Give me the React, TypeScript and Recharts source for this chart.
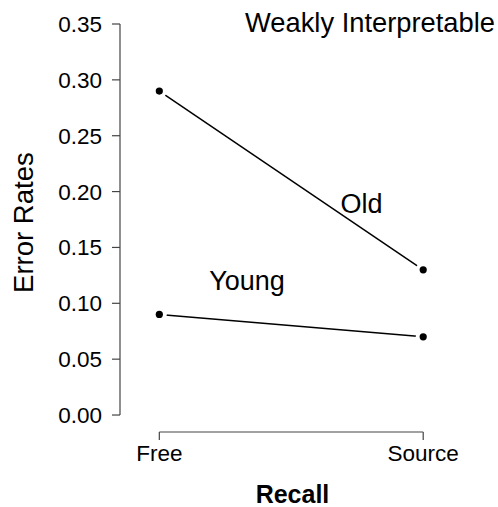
import React from 'react';
import { LineChart, Line, XAxis, YAxis, ReferenceLine } from 'recharts';

const conditions = ['Free', 'Source'];
const oldErrors = [0.29, 0.13];
const youngErrors = [0.09, 0.07];
const yTicks = [0, 0.05, 0.1, 0.15, 0.2, 0.25, 0.3, 0.35];

const FONT = '"Liberation Sans", Arial, Helvetica, sans-serif';
const AXIS_COLOR = '#444';

// x positions are condition indices; the extra room on either side keeps
// the points off the y axis like base R's plot region
const X_DOMAIN: [number, number] = [-0.149, 1.147];
// the axis sits a little below zero, R-style
const Y_DOMAIN: [number, number] = [-0.0152, 0.35];

const data = conditions.map((name, i) => ({
  x: i,
  name,
  old: oldErrors[i],
  young: youngErrors[i],
}));

// point with a white ring so the connecting line stops short of it (type = "b")
const GapDot = (props: any) => {
  const { cx, cy, index } = props;
  if (cx == null || cy == null) return <g key={index} />;
  return (
    <g key={index}>
      <circle cx={cx} cy={cy} r={7.5} fill="#fff" />
      <circle cx={cx} cy={cy} r={3.6} fill="#000" />
    </g>
  );
};

export default function App() {
  return (
    <div style={{ position: 'absolute', left: 0, top: 0, width: 498, height: 507, background: '#fff' }}>
      <LineChart
        width={498}
        height={507}
        data={data}
        margin={{ top: 24, right: 36, bottom: 0, left: 0 }}
      >
        <XAxis
          dataKey="x"
          type="number"
          domain={X_DOMAIN}
          ticks={[0, 1]}
          tickFormatter={(v: number) => conditions[v] ?? ''}
          axisLine={false}
          tickSize={8}
          tickMargin={5}
          height={75}
          tickLine={{ stroke: AXIS_COLOR, strokeWidth: 1.2 }}
          tick={{ fill: '#000', fontSize: 22.5, fontFamily: FONT }}
          allowDataOverflow
        />
        <YAxis
          type="number"
          domain={Y_DOMAIN}
          ticks={yTicks}
          tickFormatter={(v: number) => v.toFixed(2)}
          axisLine={false}
          tickSize={8}
          tickMargin={10}
          width={120}
          tickLine={{ stroke: AXIS_COLOR, strokeWidth: 1.2 }}
          tick={{ fill: '#000', fontSize: 22.5, fontFamily: FONT }}
          allowDataOverflow
          interval={0}
        />
        {/* axis lines only span the tick range */}
        <ReferenceLine
          segment={[{ x: X_DOMAIN[0], y: 0 }, { x: X_DOMAIN[0], y: 0.35 }]}
          stroke={AXIS_COLOR}
          strokeWidth={1.2}
          ifOverflow="visible"
        />
        <ReferenceLine
          segment={[{ x: 0, y: Y_DOMAIN[0] }, { x: 1, y: Y_DOMAIN[0] }]}
          stroke={AXIS_COLOR}
          strokeWidth={1.2}
          ifOverflow="visible"
        />
        <Line
          dataKey="old"
          stroke="#000"
          strokeWidth={1.5}
          dot={GapDot}
          activeDot={false}
          isAnimationActive={false}
        />
        <Line
          dataKey="young"
          stroke="#000"
          strokeWidth={1.5}
          dot={GapDot}
          activeDot={false}
          isAnimationActive={false}
        />
      </LineChart>
      <svg
        width={498}
        height={507}
        style={{ position: 'absolute', left: 0, top: 0, pointerEvents: 'none' }}
        fontFamily={FONT}
      >
        <text x={370} y={31.5} fontSize={27.3} textAnchor="middle" fill="#000">
          Weakly Interpretable
        </text>
        <text x={361.5} y={213} fontSize={27} textAnchor="middle" fill="#000">
          Old
        </text>
        <text x={247} y={290} fontSize={27} textAnchor="middle" fill="#000">
          Young
        </text>
        <text
          x={33}
          y={222.6}
          fontSize={27.5}
          textAnchor="middle"
          fill="#000"
          transform="rotate(-90 33 222.6)"
        >
          Error Rates
        </text>
        <text x={292.5} y={502.5} fontSize={25} fontWeight="bold" textAnchor="middle" fill="#000">
          Recall
        </text>
      </svg>
    </div>
  );
}
